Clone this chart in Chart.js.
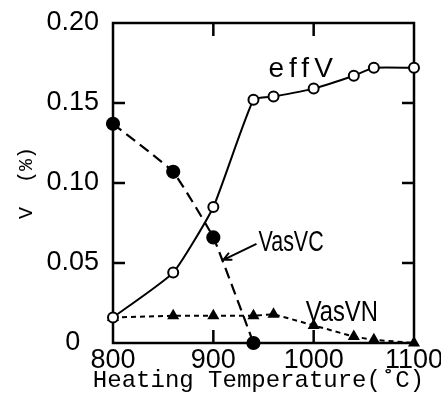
<!DOCTYPE html>
<html lang="en">
<head>
<meta charset="UTF-8">
<title>V vs heating temperature</title>
<script src="https://cdn.jsdelivr.net/npm/chart.js@4.4.0/dist/chart.umd.min.js"></script>
<style>
  body { margin: 0; background: #fff; }
  #wrap { width: 441px; height: 399px; }
</style>
</head>
<body>
<div id="wrap"><canvas id="vChart" width="441" height="399"></canvas></div>
<script>
  // values
  var effTemps = [800, 860, 900, 940, 960, 1000, 1040, 1060, 1100];
  var effV = [0.016, 0.044, 0.085, 0.152, 0.154, 0.159, 0.167, 0.172, 0.172];
  var vcTemps = [800, 860, 900, 940];
  var vasVC = [0.137, 0.107, 0.066, 0];
  var vnTemps = [800, 860, 900, 940, 960, 1000, 1040, 1060, 1100];
  var vasVN = [0.016, 0.017, 0.017, 0.017, 0.018, 0.011, 0.004, 0.002, 0];
  var xTicks = [800, 900, 1000, 1100];
  var yTicks = [0, 0.05, 0.10, 0.15, 0.20];
  var xTitle = 'Heating Temperature(\u02daC)';

  var tickFont = { family: '"Liberation Sans", Arial, sans-serif', size: 27 };
  var monoFont = '"Liberation Mono", "DejaVu Sans Mono", monospace';

  function pts(xs, ys) {
    return xs.map(function(x, i) { return { x: x, y: ys[i] }; });
  }

  // box round the plot and the short inward ticks
  var frame = {
    id: 'frame',
    beforeDatasetsDraw: function(chart) {
      var ctx = chart.ctx, a = chart.chartArea;
      var xs = chart.scales.x, ys = chart.scales.y;
      ctx.save();
      ctx.strokeStyle = '#000';
      ctx.lineWidth = 2.5;
      ctx.strokeRect(a.left, a.top, a.right - a.left, a.bottom - a.top);
      ctx.beginPath();
      xTicks.slice(1, -1).forEach(function(t) {
        var px = xs.getPixelForValue(t);
        ctx.moveTo(px, a.top); ctx.lineTo(px, a.top + 13);
        ctx.moveTo(px, a.bottom); ctx.lineTo(px, a.bottom - 13);
      });
      yTicks.slice(1, -1).forEach(function(t) {
        var py = ys.getPixelForValue(t);
        ctx.moveTo(a.left, py); ctx.lineTo(a.left + 12, py);
        ctx.moveTo(a.right, py); ctx.lineTo(a.right - 12, py);
      });
      ctx.stroke();
      ctx.restore();
    },
    afterDatasetsDraw: function(chart) {
      var ctx = chart.ctx, a = chart.chartArea;
      var xs = chart.scales.x, ys = chart.scales.y;
      ctx.save();
      ctx.fillStyle = '#000';
      ctx.strokeStyle = '#000';
      ctx.textBaseline = 'middle';

      // x axis title: wider than the plot, so drawn here rather than squeezed by the scale
      ctx.font = '24px ' + monoFont;
      ctx.textAlign = 'center';
      ctx.fillText(xTitle, (a.left + a.right) / 2 - 5, xs.bottom - 18);

      ctx.font = '28px "Liberation Sans", Arial, sans-serif';
      ctx.letterSpacing = '5px';
      ctx.textAlign = 'left';
      ctx.fillText('effV', xs.getPixelForValue(955), ys.getPixelForValue(0.171));
      ctx.letterSpacing = '0px';

      function narrow(txt, x, y, k) {
        ctx.save();
        ctx.translate(x, y);
        ctx.scale(k, 1);
        ctx.font = '29px "Liberation Sans", Arial, sans-serif';
        ctx.textAlign = 'left';
        ctx.fillText(txt, 0, 0);
        ctx.restore();
      }
      narrow('VasVC', xs.getPixelForValue(945), ys.getPixelForValue(0.0625), 0.74);
      narrow('VasVN', xs.getPixelForValue(992), ys.getPixelForValue(0.019), 0.82);

      // arrow pointing at the VC curve
      var tx = xs.getPixelForValue(943), ty = ys.getPixelForValue(0.062);
      var hx = xs.getPixelForValue(910), hy = ys.getPixelForValue(0.052);
      ctx.lineWidth = 2;
      ctx.beginPath();
      ctx.moveTo(tx, ty); ctx.lineTo(hx, hy);
      var ang = Math.atan2(hy - ty, hx - tx);
      ctx.moveTo(hx - 9 * Math.cos(ang - 0.45), hy - 9 * Math.sin(ang - 0.45));
      ctx.lineTo(hx, hy);
      ctx.lineTo(hx - 9 * Math.cos(ang + 0.45), hy - 9 * Math.sin(ang + 0.45));
      ctx.stroke();
      ctx.restore();
    }
  };

  new Chart(document.getElementById('vChart'), {
    type: 'scatter',
    data: {
      datasets: [
        {
          label: 'effV',
          data: pts(effTemps, effV),
          showLine: true,
          tension: 0.15,
          borderColor: '#000',
          borderWidth: 2,
          pointStyle: 'circle',
          pointRadius: 5,
          pointBorderWidth: 2,
          pointBackgroundColor: '#fff',
          pointBorderColor: '#000',
          clip: false,
          order: 0
        },
        {
          label: 'VasVC',
          data: pts(vcTemps, vasVC),
          showLine: true,
          tension: 0.1,
          borderColor: '#000',
          borderWidth: 2.2,
          borderDash: [11, 6],
          pointStyle: 'circle',
          pointRadius: 6,
          pointBackgroundColor: '#000',
          pointBorderColor: '#000',
          clip: false,
          order: 1
        },
        {
          label: 'VasVN',
          data: pts(vnTemps, vasVN),
          showLine: true,
          borderColor: '#000',
          borderWidth: 2,
          borderDash: [5, 4],
          pointStyle: 'triangle',
          pointRadius: 5,
          pointBackgroundColor: '#000',
          pointBorderColor: '#000',
          clip: false,
          order: 2
        }
      ]
    },
    options: {
      responsive: false,
      animation: false,
      devicePixelRatio: 1,
      layout: { padding: { left: 0, top: 23, right: 27, bottom: 0 } },
      plugins: {
        legend: { display: false },
        tooltip: { enabled: false }
      },
      scales: {
        x: {
          type: 'linear',
          min: 800,
          max: 1100,
          afterBuildTicks: function(s) { s.ticks = xTicks.map(function(v) { return { value: v }; }); },
          afterFit: function(s) { s.height = 56; s.paddingLeft = 0; s.paddingRight = 0; },
          grid: { display: false, drawTicks: false },
          border: { display: false },
          ticks: {
            font: tickFont, color: '#000', padding: 1, maxRotation: 0,
            callback: function(v) { return String(v); }
          },
          title: { display: false }
        },
        y: {
          type: 'linear',
          min: 0,
          max: 0.2,
          afterBuildTicks: function(s) { s.ticks = yTicks.map(function(v) { return { value: v }; }); },
          afterFit: function(s) { s.width = 113; s.paddingTop = 0; s.paddingBottom = 0; },
          grid: { display: false, drawTicks: false },
          border: { display: false },
          ticks: {
            font: tickFont,
            color: '#000',
            padding: 14,
            crossAlign: 'center',
            callback: function(v) { return v === 0 ? '0' : v.toFixed(2); }
          },
          title: {
            display: true,
            text: 'V  (%)',
            font: { family: monoFont, size: 20 },
            color: '#000',
            padding: { top: 15, bottom: 0 }
          }
        }
      }
    },
    plugins: [frame]
  });
</script>
</body>
</html>
